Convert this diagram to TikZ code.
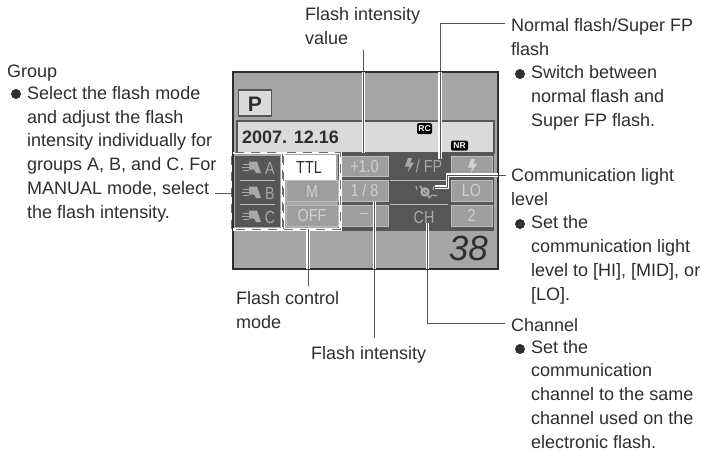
\documentclass[tikz,border=0pt]{standalone}
\usepackage{fontspec}
\usepackage{graphicx}
\setmainfont{Liberation Sans}
\definecolor{ink}{HTML}{2E2E2E}
\definecolor{scr}{HTML}{A6A6A6}
\definecolor{strip}{HTML}{DADADA}
\definecolor{dk}{HTML}{565656}
\definecolor{cellc}{HTML}{9E9E9E}
\definecolor{celledge}{HTML}{BDBDBD}
\definecolor{celltext}{HTML}{CFCFCF}
\definecolor{dktext}{HTML}{A8A8A8}
\definecolor{conn}{HTML}{555555}
\definecolor{dashc}{HTML}{6E6E6E}
\newcommand{\nar}[1]{\scalebox{.82}[1]{#1}}
\newcommand{\connpaths}{
  (cFIV) -- (cFIV |- sA.north)
  (cNFa) -- (cNFb) -- (cNFb |- sF.north)
  (cCLa) -- (cCLb) -- (cCLc) -- (cCLd)
  (cCHa) -- (cCHb) -- (cCHb |- nCH.south)
  (cFIa) -- (cFIa |- v2.south)
  (cFCa) -- (cFCa |- dashtwo.south)
}
\tikzset{
  x=1pt,y=-1pt,
  body/.style={font=\fontsize{18}{23.7}\selectfont,text=ink,inner sep=0pt,anchor=base west,align=left},
  bulletdot/.style={circle,fill=ink,minimum size=10pt,inner sep=0pt},
  cellbox/.style={draw=celledge,line width=.8pt,fill=cellc,inner sep=0pt,text=celltext,font=\fontsize{17.5}{18}\selectfont},
  darkbox/.style={fill=dk,inner sep=0pt},
  darktext/.style={text=dktext,inner sep=0pt,font=\fontsize{17.5}{18}\selectfont},
  connline/.style={draw=conn,line width=1pt},
  halo/.style={draw=white,line width=3.2pt},
  sepline/.style={draw=celledge,line width=.9pt},
  tagbox/.style={fill=black,rounded corners=1.5pt,text=white,inner sep=0pt,font=\bfseries\fontsize{8.5}{9}\selectfont},
  dashwhite/.style={draw=white,line width=2.6pt},
  dashgrey/.style={draw=dashc,line width=1.3pt,dash pattern=on 9pt off 7pt},
  gunicon/.pic={
    \draw[dktext,line width=1pt] (-9,-3) -- (-3,-3) (-10,0) -- (-3,0) (-9,3) -- (-3,3);
    \fill[dktext] (-3,-5.5) -- (5,-5.5) -- (9,6) -- (4,6) -- (2,2.5) -- (-3,2.5) -- cycle;
  },
  boltglyph/.pic={
    \fill[#1] (-1,-7) -- (3,-7) -- (1.5,-2.5) -- (5,-2.5) -- (-1,7) -- (0,1.5) -- (-4,1.5) -- cycle;
  },
}
\begin{document}
\begin{tikzpicture}
\useasboundingbox (0,0) rectangle (701,451);
% screen
\node[draw=ink,line width=1.3pt,fill=scr,minimum width=265pt,minimum height=197pt,inner sep=0pt] (screen) at (365.5,170.5) {};
\node[draw=dk,line width=1.5pt,fill=strip,minimum width=33pt,minimum height=26pt,inner sep=0pt] (pbox) at (255,103) {};
\node[inner sep=0pt,anchor=base,font=\bfseries\fontsize{21}{21}\selectfont,text=ink] (plabel) at (255,111) {P};
\node[draw=dk,line width=1.5pt,fill=strip,minimum width=257pt,minimum height=32pt,inner sep=0pt] (datebar) at (365.5,137) {};
\node[inner sep=0pt,anchor=base west,font=\bfseries\fontsize{18}{18}\selectfont,text=ink] (datetext) at (242,143) {2007. 12.16};
\node[tagbox,minimum width=15pt,minimum height=11pt] (rc) at (424.5,128.5) {RC};
\node[tagbox,minimum width=17pt,minimum height=10pt] (nr) at (459.5,145.5) {NR};
% table ground
\node[darkbox,minimum width=156pt,minimum height=78pt] (tableR) at (416,192) {};
\node[darkbox,minimum width=45pt,minimum height=71pt] (groupbg) at (257.5,191) {};
% flash group rows
\pic at (252,167) {gunicon};
\pic at (252,192) {gunicon};
\pic at (252,216) {gunicon};
\node[darktext] (gA) at (270,168) {\nar{A}};
\node[darktext] (gB) at (270,193) {\nar{B}};
\node[darktext] (gC) at (270,217) {\nar{C}};
\draw[sepline] (240,180) -- (275,180) (240,204) -- (275,204);
% mode cells
\node[fill=white,inner sep=0pt,minimum width=54pt,minimum height=25pt,text=ink,font=\fontsize{17.5}{18}\selectfont] (m1) at (309,167.5) {\nar{TTL}};
\node[cellbox,minimum width=52pt,minimum height=21pt] (m2) at (312,191) {\nar{M}};
\node[cellbox,minimum width=52pt,minimum height=21pt] (m3) at (312,215.5) {\nar{OFF}};
% value cells
\node[cellbox,minimum width=47pt,minimum height=20pt] (v1) at (364.5,166) {\nar{+1.0}};
\node[cellbox,minimum width=47pt,minimum height=21pt] (v2) at (364.5,190.5) {\nar{1 / 8}};
\node[cellbox,minimum width=47pt,minimum height=21pt] (v3) at (364.5,215.5) {\nar{--}};
% right dark column
\pic at (409,165) {boltglyph=dktext};
\node[darktext] (sF) at (429,166) {\nar{/ FP}};
\coordinate (sA) at (364,153);
\draw[sepline] (390,180) -- (448,180) (390,204) -- (448,204);
\node[darktext] (nCH) at (424,217) {\nar{CH}};
\coordinate (iconC) at (425,192);
\draw[dktext,line width=2.4pt] (iconC) circle (3.5pt);
\draw[dktext,line width=1.1pt] (430,197) .. controls (433,192) and (434,198) .. (437,195) (416,186) -- (417,190) (434,186) -- (433,190);
\draw[dktext,line width=1.8pt] (420,186) -- (430,198);
% right cells
\node[cellbox,minimum width=41pt,minimum height=20pt] (r1) at (471.5,166) {};
\pic at (472,166) {boltglyph=celltext};
\node[cellbox,minimum width=41pt,minimum height=21pt] (r2) at (471.5,190.5) {\nar{LO}};
\node[cellbox,minimum width=41pt,minimum height=21pt] (r3) at (471.5,215.5) {\nar{2}};
% dashed frames
\node[minimum width=50pt,minimum height=76pt,inner sep=0pt] (dashone) at (257,191) {};
\node[minimum width=56pt,minimum height=76pt,inner sep=0pt] (dashtwo) at (312,191) {};
\draw[dashwhite] (dashone.south west) rectangle (dashone.north east);
\draw[dashgrey] (dashone.south west) rectangle (dashone.north east);
\draw[dashwhite] (dashtwo.south west) rectangle (dashtwo.north east);
\draw[dashgrey] (dashtwo.south west) rectangle (dashtwo.north east);
% counter
\node[inner sep=0pt,anchor=base east,font=\itshape\fontsize{35}{35}\selectfont,text=ink] (count) at (488,260) {38};
% labels
\node[body] (lGroup) at (7,77) {Group};
\node[bulletdot] (bGroup) at (16,94) {};
\node[body] (tGroup) at (27,218) {Select the flash mode\\and adjust the flash\\intensity individually for\\groups A, B, and C. For\\MANUAL mode, select\\the flash intensity.};
\node[body] (lFIV) at (305,44) {Flash intensity\\value};
\node[body] (lNF) at (511,55) {Normal flash/Super FP\\flash};
\node[bulletdot] (bNF) at (520,74) {};
\node[body] (tNF) at (531,126) {Switch between\\normal flash and\\Super FP flash.};
\node[body] (lCL) at (511,205) {Communication light\\level};
\node[bulletdot] (bCL) at (520,224) {};
\node[body] (tCL) at (531,300) {Set the\\communication light\\level to [HI], [MID], or\\{[LO].}};
\node[body] (lCH) at (511,331) {Channel};
\node[bulletdot] (bCH) at (520,349) {};
\node[body] (tCH) at (531,448) {Set the\\communication\\channel to the same\\channel used on the\\electronic flash.};
\node[body] (lFC) at (236,328) {Flash control\\mode};
\node[body] (lFI) at (311,359) {Flash intensity};
% connector ends
\coordinate (cFIV) at (363.5,50);
\coordinate (cNFa) at (505,23);
\coordinate (cNFb) at (440,23);
\coordinate (cCLa) at (506,175);
\coordinate (cCLb) at (447.5,175);
\coordinate (cCLc) at (447.5,187);
\coordinate (cCLd) at (435,187);
\coordinate (cCHa) at (505,323);
\coordinate (cCHb) at (427.5,323);
\coordinate (cFIa) at (374.5,338);
\coordinate (cFCa) at (308,286);
\coordinate (cGR) at (215,193);
% connectors with a white halo inside the screen
\begin{scope}
\clip (screen.north west) rectangle (screen.south east);
\draw[halo] \connpaths;
\end{scope}
\draw[connline] \connpaths;
\draw[connline] (cGR) -- (cGR -| dashone.west);
\draw[draw=ink,line width=1.3pt] (screen.north west) rectangle (screen.south east);
\draw[connline] (cFIa) -- (cFIa |- screen.south) (cFCa) -- (cFCa |- screen.south) (cCHb) -- (cCHb |- screen.south);
\end{tikzpicture}
\end{document}
